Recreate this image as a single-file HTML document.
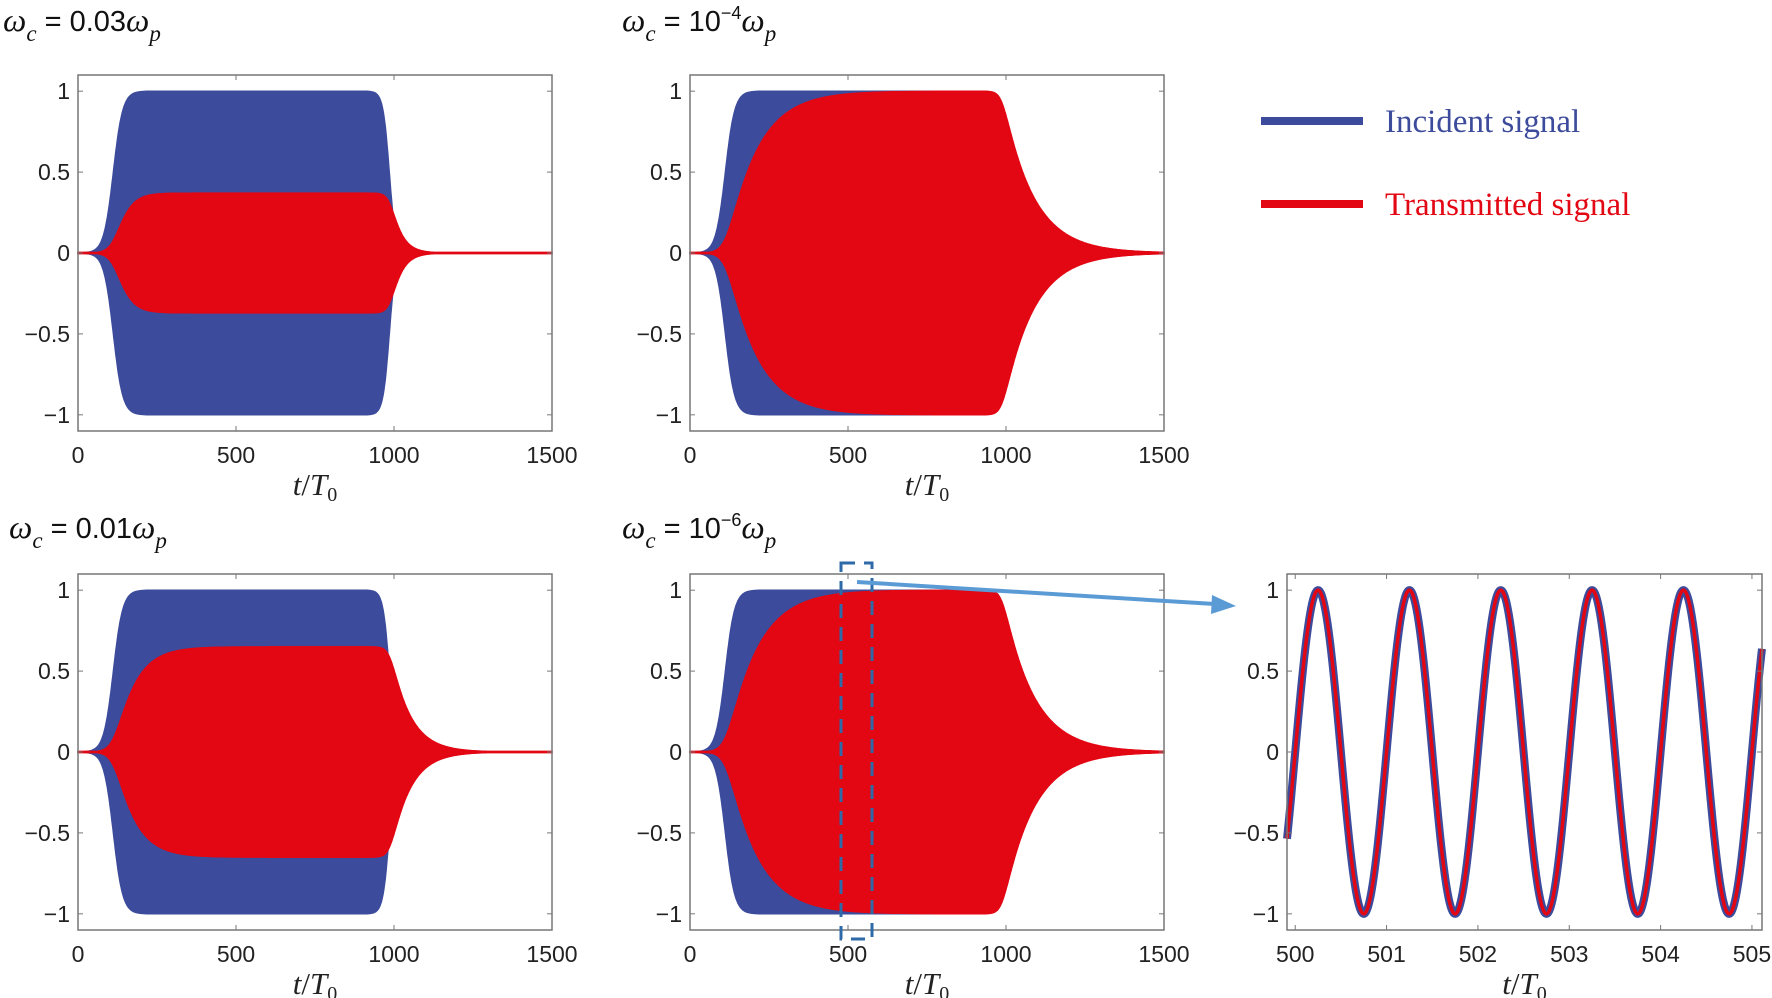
<!DOCTYPE html>
<html><head><meta charset="utf-8">
<style>
html,body{margin:0;padding:0;background:#fff;}
svg{display:block;}
.tk{font-family:"Liberation Sans",sans-serif;font-size:23px;fill:#222;}
.ser{font-family:"Liberation Serif",serif;font-style:italic;}
.ttl{font-family:"Liberation Sans",sans-serif;font-size:29px;fill:#111;}
</style></head>
<body>
<svg id="s" width="1772" height="998" xmlns="http://www.w3.org/2000/svg">
<g id="g"></g>
<rect x="1261" y="117" width="102" height="8" fill="#3c4b9b"/>
<text x="1385" y="132" font-family="Liberation Serif,serif" font-size="33" fill="#3c4b9b">Incident signal</text>
<rect x="1261" y="200" width="102" height="8" fill="#e30613"/>
<text x="1385" y="215" font-family="Liberation Serif,serif" font-size="33" fill="#e30613">Transmitted signal</text>
<text class="ttl" x="3" y="31"><tspan class="ser" font-size="33">ω</tspan><tspan font-size="23" dy="10" class="ser">c</tspan><tspan dy="-10"> = 0.03</tspan><tspan class="ser" font-size="33">ω</tspan><tspan font-size="23" dy="10" class="ser">p</tspan></text>
<text class="ttl" x="622" y="31"><tspan class="ser" font-size="33">ω</tspan><tspan font-size="23" dy="10" class="ser">c</tspan><tspan dy="-10"> = 10</tspan><tspan font-size="18" dy="-12">−4</tspan><tspan class="ser" font-size="33" dy="12">ω</tspan><tspan font-size="23" dy="10" class="ser">p</tspan></text>
<text class="ttl" x="9" y="538"><tspan class="ser" font-size="33">ω</tspan><tspan font-size="23" dy="10" class="ser">c</tspan><tspan dy="-10"> = 0.01</tspan><tspan class="ser" font-size="33">ω</tspan><tspan font-size="23" dy="10" class="ser">p</tspan></text>
<text class="ttl" x="622" y="538"><tspan class="ser" font-size="33">ω</tspan><tspan font-size="23" dy="10" class="ser">c</tspan><tspan dy="-10"> = 10</tspan><tspan font-size="18" dy="-12">−6</tspan><tspan class="ser" font-size="33" dy="12">ω</tspan><tspan font-size="23" dy="10" class="ser">p</tspan></text>
</svg>
<script>
var NS="http://www.w3.org/2000/svg",G=document.getElementById("g");
function el(t,a,txt){var e=document.createElementNS(NS,t);for(var k in a)e.setAttribute(k,a[k]);if(txt!=null)e.textContent=txt;G.appendChild(e);return e;}
function inc(t){var r=0.5*(1+Math.tanh((t-112)/30)),f=0.5*(1-Math.tanh((t-985)/20));return r*f;}
function trans(A,tau){var out=[],r=0,dt=1;for(var t=0;t<=1500;t+=dt){out.push(r);r+=dt*(A*inc(t)-r)/tau;}return out;}
function panel(L,T,opt){
 var W=474,H=356,yc=T+H/2,u=H/2/1.1;
 var X=function(t){return L+t*W/1500;},Y=function(v){return yc-v*u;};
 function band(fn,col){var up="",dn="";for(var t=0;t<=1500;t+=2){var e=fn(t);up+=(t?"L":"M")+X(t).toFixed(1)+" "+Y(e).toFixed(1);}
  for(var t=1500;t>=0;t-=2){dn+="L"+X(t).toFixed(1)+" "+Y(-fn(t)).toFixed(1);}
  el("path",{d:up+dn+"Z",fill:col,stroke:col,"stroke-width":1.5});}
 band(inc,"#3c4b9b");
 var tr=trans(opt.A,opt.tau);
 band(function(t){return Math.max(tr[t],0.004);},"#e30613");
 axes(L,T,W,H,X,[0,500,1000,1500],Y,[1,0.5,0,-0.5,-1],["1","0.5","0","\u22120.5","\u22121"]);
}
function axes(L,T,W,H,X,xt,Y,yt,yl,xl){
 el("rect",{x:L,y:T,width:W,height:H,fill:"none",stroke:"#777","stroke-width":1.5});
 xt.forEach(function(v,i){var x=X(v);el("line",{x1:x,x2:x,y1:T+H,y2:T+H-5,stroke:"#777"});el("line",{x1:x,x2:x,y1:T,y2:T+5,stroke:"#777"});
  el("text",{x:x,y:T+H+32,"text-anchor":"middle","class":"tk"},xl?xl[i]:String(v));});
 yt.forEach(function(v,i){var y=Y(v);el("line",{x1:L,x2:L+5,y1:y,y2:y,stroke:"#777"});el("line",{x1:L+W,x2:L+W-5,y1:y,y2:y,stroke:"#777"});
  el("text",{x:L-8,y:y+8,"text-anchor":"end","class":"tk"},yl[i]);});
 var tx=el("text",{x:L+W/2,y:T+H+64,"text-anchor":"middle","font-family":"Liberation Serif,serif","font-size":"31",fill:"#222"});
 tx.innerHTML='<tspan font-style="italic">t</tspan>/<tspan font-style="italic">T</tspan><tspan font-size="20" dy="6">0</tspan>';
}
panel(78,75,{A:0.37,tau:30});
panel(690,75,{A:1,tau:95});
panel(78,574,{A:0.65,tau:60});
panel(690,574,{A:1,tau:95});
(function(){var L=1287,T=574,W=475,H=356,yc=T+H/2,u=H/2/1.1,x0=499.91,x1=505.11;
 var X=function(t){return L+(t-x0)*W/(x1-x0);},Y=function(v){return yc-v*u;};
 var d="";for(var i=0;i<=1000;i++){var t=x0+(x1-x0)*i/1000;d+=(i?"L":"M")+X(t).toFixed(2)+" "+Y(Math.sin(2*Math.PI*(t-500))).toFixed(2);}
 el("path",{d:d,fill:"none",stroke:"#3c4b9b","stroke-width":8});
 el("path",{d:d,fill:"none",stroke:"#e30613","stroke-width":3.5});
 axes(L,T,W,H,X,[500,501,502,503,504,505],Y,[1,0.5,0,-0.5,-1],["1","0.5","0","\u22120.5","\u22121"]);
})();
el("rect",{x:841,y:563,width:31,height:376,fill:"none",stroke:"#2e6aa8","stroke-width":3,"stroke-dasharray":"14 9"});
el("line",{x1:857,y1:582,x2:1215,y2:604,stroke:"#5b9bd5","stroke-width":4});
el("polygon",{points:"1236,606 1212,595 1211,614",fill:"#5b9bd5"});
</script>
</body></html>
